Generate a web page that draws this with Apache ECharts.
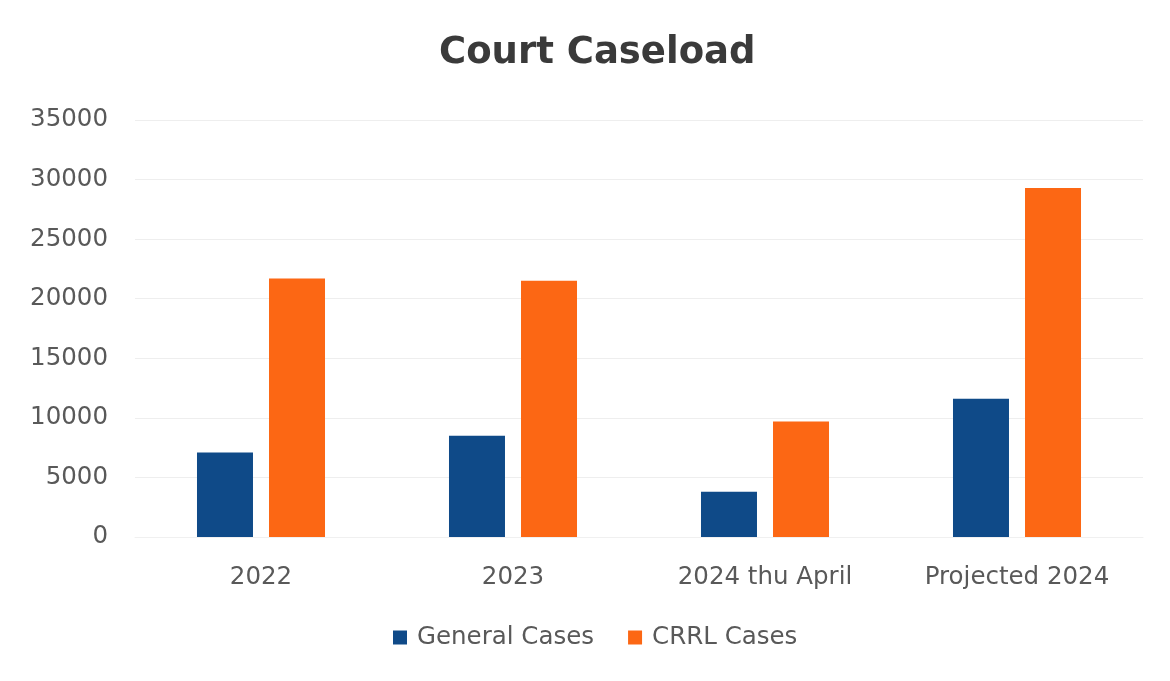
<!DOCTYPE html>
<html>
<head>
<meta charset="utf-8">
<script src="https://cdn.jsdelivr.net/npm/echarts@6/dist/echarts.min.js"></script>
<style>
html,body{margin:0;padding:0;background:#fff;}
#chart{width:1170px;height:681px;}
</style>
</head>
<body>
<div id="chart"></div>
<script>
const categories = ['2022', '2023', '2024 thu April', 'Projected 2024'];
const generalCases = [7100, 8500, 3800, 11600];
const crrlCases = [21700, 21500, 9700, 29300];
const seriesNames = ['General Cases', 'CRRL Cases'];

const chart = echarts.init(document.getElementById('chart'));
chart.setOption({
  backgroundColor: '#ffffff',
  animation: false,
  title: {
    text: 'Court Caseload',
    left: 434,
    top: 30,
    textStyle: { fontFamily: 'DejaVu Sans', fontWeight: 'bold', fontSize: 37, color: '#3a3a3a' }
  },
  legend: {
    top: 620,
    left: 388,
    itemWidth: 14,
    itemHeight: 14,
    itemGap: 34,
    icon: 'rect',
    textStyle: { fontFamily: 'DejaVu Sans', fontSize: 24.5, color: '#595959', padding: [0, 0, 0, 5] },
    data: seriesNames
  },
  grid: { left: 135, right: 27, top: 120, bottom: 144 },
  xAxis: {
    type: 'category',
    data: categories,
    axisLine: { show: true, lineStyle: { color: '#f0f0f0' } },
    axisTick: { show: false },
    axisLabel: { fontFamily: 'DejaVu Sans', fontSize: 24.5, color: '#595959', margin: 28 }
  },
  yAxis: {
    type: 'value',
    min: 0, max: 35000, interval: 5000,
    axisLine: { show: false },
    axisTick: { show: false },
    axisLabel: { fontFamily: 'DejaVu Sans', fontSize: 24.5, color: '#595959', margin: 27, formatter: v => String(v) },
    splitLine: { lineStyle: { color: '#eeeeee', width: 1 } }
  },
  series: [
    { name: seriesNames[0], type: 'bar', data: generalCases, barWidth: 56, barGap: '28.6%', itemStyle: { color: '#0F4A88' } },
    { name: seriesNames[1], type: 'bar', data: crrlCases, barWidth: 56, itemStyle: { color: '#FC6714' } }
  ]
});
</script>
</body>
</html>
